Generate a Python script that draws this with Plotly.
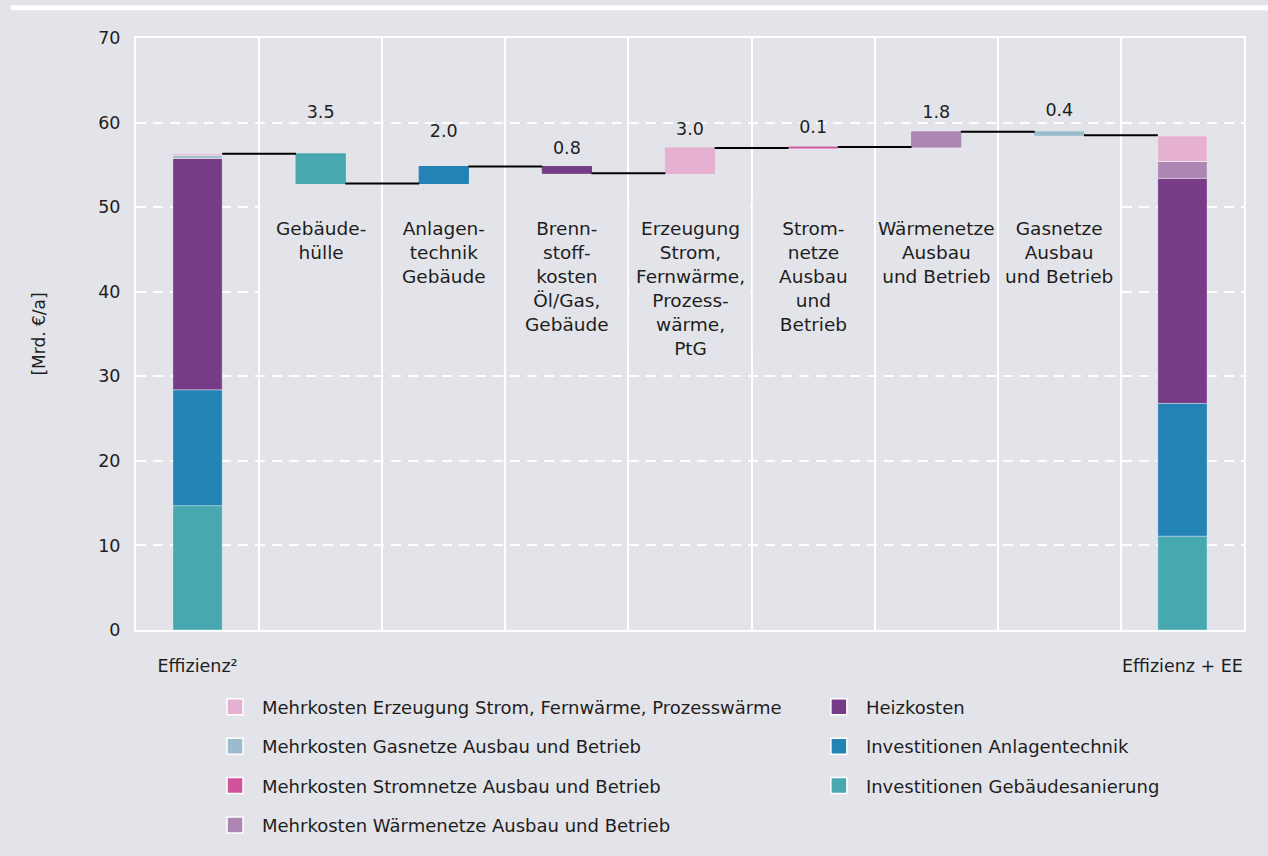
import plotly.graph_objects as go
import numpy as np

# stacked components, bottom to top
components = [
    "Investitionen Gebäudesanierung",
    "Investitionen Anlagentechnik",
    "Heizkosten",
    "Mehrkosten Wärmenetze Ausbau und Betrieb",
    "Mehrkosten Stromnetze Ausbau und Betrieb",
    "Mehrkosten Gasnetze Ausbau und Betrieb",
    "Mehrkosten Erzeugung Strom, Fernwärme, Prozesswärme",
]
colors = ["#47a8b0", "#2383b5", "#773c87", "#ad86b3", "#d1539a", "#9bbccd", "#e6b0d1"]

start_values = [14.7, 13.7, 27.4, 0.0, 0.0, 0.3, 0.2]
end_values = [11.1, 15.7, 26.6, 2.0, 0.0, 0.0, 3.0]

end_labels = ["Effizienz²", "Effizienz + EE"]

step_labels = [
    "Gebäude-<br>hülle",
    "Anlagen-<br>technik<br>Gebäude",
    "Brenn-<br>stoff-<br>kosten<br>Öl/Gas,<br>Gebäude",
    "Erzeugung<br>Strom,<br>Fernwärme,<br>Prozess-<br>wärme,<br>PtG",
    "Strom-<br>netze<br>Ausbau<br>und<br>Betrieb",
    "Wärmenetze<br>Ausbau<br>und Betrieb",
    "Gasnetze<br>Ausbau<br>und Betrieb",
]
step_deltas = [-3.5, 2.0, -0.8, 3.0, 0.1, 1.8, -0.4]
step_component = [0, 1, 2, 6, 4, 3, 5]

legend_left = [6, 5, 4, 3]
legend_right = [2, 1, 0]

bg = "#e3e4e9"
txt = "#1e1e1e"
font = "DejaVu Sans"
bw = 0.4
label_lift = [4.8, 4.0, 2.0, 2.1, 2.2, 2.1, 2.4]

n_steps = len(step_deltas)
x_last = n_steps + 1

fig = go.Figure()

# stacked start / end bars
starts = np.array(start_values)
ends = np.array(end_values)
base_s = np.concatenate([[0], np.cumsum(starts)[:-1]])
base_e = np.concatenate([[0], np.cumsum(ends)[:-1]])
for k, name in enumerate(components):
    fig.add_trace(go.Bar(
        x=[0, x_last], y=[starts[k], ends[k]], base=[base_s[k], base_e[k]],
        width=bw, marker=dict(color=colors[k], line=dict(color="rgba(255,255,255,0.35)", width=1)),
        showlegend=False, hoverinfo="skip",
    ))

# waterfall steps
levels = np.concatenate([[starts.sum()], starts.sum() + np.cumsum(step_deltas)])
xs = np.arange(1, n_steps + 1)
lows = np.minimum(levels[:-1], levels[1:])
highs = np.maximum(levels[:-1], levels[1:])
step_colors = [colors[c] for c in step_component]
fig.add_trace(go.Bar(
    x=xs, y=highs - lows, base=lows, width=bw,
    marker=dict(color=step_colors, line=dict(color=step_colors, width=1)),
    showlegend=False, hoverinfo="skip",
))

# connectors
cx, cy = [], []
for i in range(n_steps + 1):
    cx += [i + bw / 2, i + 1 - bw / 2, None]
    cy += [levels[i], levels[i], None]
fig.add_trace(go.Scatter(x=cx, y=cy, mode="lines", line=dict(color="black", width=2),
                         showlegend=False, hoverinfo="skip"))

# value labels
fig.add_trace(go.Scatter(
    x=xs, y=highs + np.array(label_lift), mode="text",
    text=[f"{abs(d):.1f}" for d in step_deltas],
    textfont=dict(size=17.5, color=txt, family=font),
    showlegend=False, hoverinfo="skip",
))

# legend entries
for k in legend_left + legend_right:
    fig.add_trace(go.Scatter(
        x=[None], y=[None], mode="markers", name=components[k],
        marker=dict(symbol="square", size=20, color=colors[k], line=dict(color="white", width=1.5)),
        legendgroup=components[k],
        legend="legend" if k in legend_left else "legend2",
    ))

# label boxes hiding gridlines behind category labels
shapes = []
for i in xs:
    shapes.append(dict(type="rect", xref="x", yref="y", x0=i - 0.49, x1=i + 0.49, y0=33, y1=51,
                       fillcolor=bg, line=dict(width=0), layer="between"))
shapes.append(dict(type="line", xref="paper", yref="paper", x0=-0.113, x1=1.03, y0=1.051, y1=1.051,
                   line=dict(color="white", width=5)))

annotations = []
for i, lab in zip(xs, step_labels):
    annotations.append(dict(x=i, y=49.0, xref="x", yref="y", text=lab, showarrow=False,
                            yanchor="top", align="center",
                            font=dict(size=18.5, color=txt, family=font)))

leg = dict(font=dict(size=18, color=txt, family=font), bgcolor="rgba(0,0,0,0)",
           orientation="v", tracegroupgap=13, traceorder="grouped", itemwidth=44,
           yanchor="top", xanchor="left", itemclick=False, itemdoubleclick=False)

fig.update_layout(
    width=1268, height=856,
    margin=dict(l=136, r=24, t=38, b=226),
    paper_bgcolor=bg, plot_bgcolor=bg,
    font=dict(family=font, size=17.5, color=txt),
    barmode="overlay",
    shapes=shapes, annotations=annotations,
    legend=dict(leg, x=0.065, y=-0.099),
    legend2=dict(leg, x=0.610, y=-0.099),
    xaxis=dict(
        range=[-0.5, x_last + 0.5], tickvals=[0, x_last], ticktext=end_labels,
        showgrid=False, zeroline=False, ticks="", ticklabelstandoff=19,
        showline=True, mirror=True, linecolor="white", linewidth=2,
        minor=dict(tickvals=[i + 0.5 for i in range(x_last)], showgrid=True,
                   gridcolor="white", gridwidth=2, ticks=""),
        fixedrange=True,
    ),
    yaxis=dict(
        range=[0, 70], dtick=10, showgrid=True, gridcolor="white", gridwidth=2,
        griddash="10px,7px", zeroline=False, ticks="", ticklabelstandoff=10,
        showline=True, mirror=True, linecolor="white", linewidth=2,
        title=dict(text="[Mrd. €/a]", standoff=48, font=dict(size=17, color=txt)),
        fixedrange=True,
    ),
)

fig.write_html("out.html", config={"displayModeBar": False},
               post_script="document.body.style.margin='0';")
